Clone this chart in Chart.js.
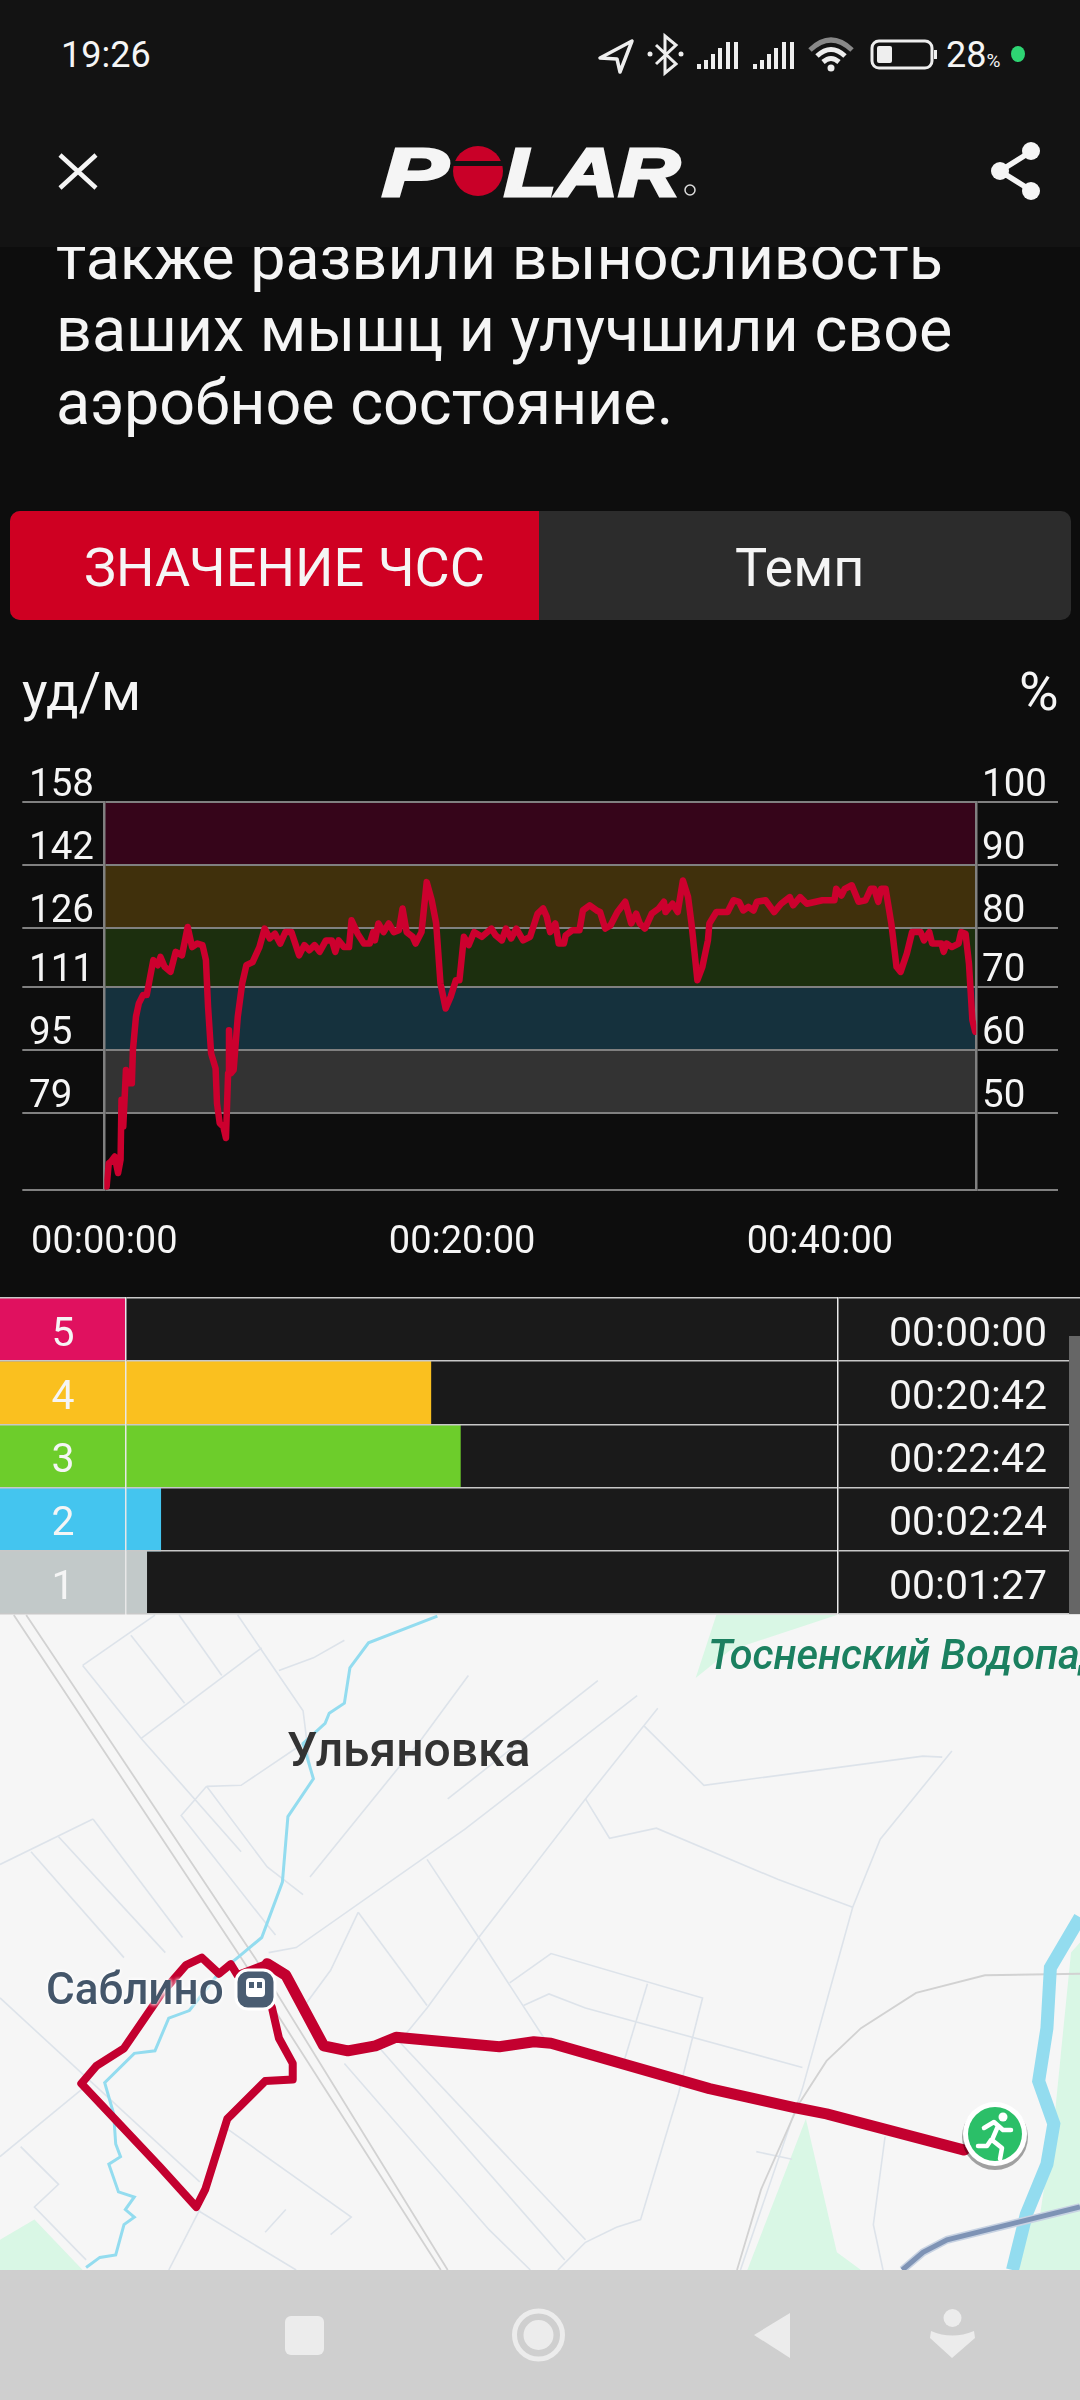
<!DOCTYPE html>
<html>
<head>
<meta charset="utf-8">
<title>Polar</title>
<script src="https://cdn.jsdelivr.net/npm/chart.js@4/dist/chart.umd.min.js"></script>
<style>
    html, body { margin: 0; padding: 0; background: #0d0d0d; }
    #page { position: relative; width: 1080px; height: 2400px; overflow: hidden; background: #0d0d0d; font-family: Roboto, sans-serif; color: #f5f5f5; }
    #page > * { position: absolute; }
    .t { white-space: nowrap; line-height: 1; }
    canvas { display: block; }
</style>
</head>
<body>
<div id="page">
    <div class="t" style="left:56px;top:221.5px;font-size:62.8px;line-height:72.5px;white-space:pre">также развили выносливость
ваших мышц и улучшили свое
аэробное состояние.</div>

    <div style="left:0;top:0;width:1080px;height:247px;background:#131313"></div>
    <div class="t" style="left:61px;top:37px;font-size:36px">19:26</div>
    <div class="t" style="left:946px;top:37px;font-size:36px">28<span style="font-size:19px">%</span></div>
    <svg style="left:0;top:0" width="1080" height="247">
        <path d="M632 41 L600 58 L617 59 L620 72 Z" fill="none" stroke="#eee" stroke-width="3.5" stroke-linejoin="round"/>
        <path d="M656 45 L676 64 L665 73 L665 36 L676 45 L656 64" fill="none" stroke="#eee" stroke-width="3"/>
        <circle cx="650" cy="54" r="2.5" fill="#eee"/><circle cx="681" cy="54" r="2.5" fill="#eee"/>
        <g fill="#eee">
            <rect x="697" y="64" width="4" height="5"/><rect x="704" y="60" width="4" height="9"/><rect x="711" y="54" width="4" height="15"/><rect x="718" y="48" width="4" height="21"/><rect x="726" y="42" width="4" height="27"/><rect x="734" y="42" width="4" height="27"/>
            <rect x="753" y="64" width="4" height="5"/><rect x="760" y="60" width="4" height="9"/><rect x="767" y="54" width="4" height="15"/><rect x="774" y="48" width="4" height="21"/><rect x="782" y="42" width="4" height="27"/><rect x="790" y="42" width="4" height="27"/>
        </g>
        <path d="M810 50 Q831 30 852 50" fill="none" stroke="#888" stroke-width="5"/>
        <path d="M817 56 Q831 43 845 56 M823 62 Q831 55 839 62" fill="none" stroke="#eee" stroke-width="5"/>
        <circle cx="831" cy="68" r="3.5" fill="#eee"/>
        <rect x="872" y="41" width="60" height="27" rx="7" fill="none" stroke="#eee" stroke-width="3"/>
        <rect x="877" y="46" width="15" height="17" rx="2" fill="#eee"/>
        <rect x="934" y="50" width="3" height="9" fill="#eee"/>
        <ellipse cx="1018" cy="54" rx="7" ry="8" fill="#2ed573"/>
        <path d="M60 155 L96 188 M96 155 L60 188" stroke="#f5f5f5" stroke-width="4.5"/>
        <g stroke="#f5f5f5" stroke-width="3">
            <text x="382" y="196" font-family="Liberation Sans" font-weight="bold" font-style="italic" font-size="68" fill="#f5f5f5" textLength="66" lengthAdjust="spacingAndGlyphs">P</text>
            <text x="504" y="196" font-family="Liberation Sans" font-weight="bold" font-style="italic" font-size="68" fill="#f5f5f5" textLength="176" lengthAdjust="spacingAndGlyphs">LAR</text>
        </g>
        <circle cx="478" cy="171" r="25" fill="#c90028"/>
        <rect x="452" y="161" width="52" height="5" fill="#131313"/>
        <circle cx="690" cy="190" r="5" fill="none" stroke="#ddd" stroke-width="1.5"/>
        <path d="M1032 151 L1000 171 L1032 191" fill="none" stroke="#f5f5f5" stroke-width="5.5"/>
        <circle cx="1031" cy="151" r="9" fill="#f5f5f5"/><circle cx="1000" cy="171" r="9" fill="#f5f5f5"/><circle cx="1031" cy="191" r="9" fill="#f5f5f5"/>
    </svg>

    <div style="left:10px;top:511px;width:1061px;height:109px;border-radius:10px;background:#2c2c2c;overflow:hidden">
        <div style="width:529px;height:109px;background:#cf0022"></div>
    </div>
    <div class="t" style="left:84px;top:541px;font-size:54px">ЗНАЧЕНИЕ ЧСС</div>
    <div class="t" style="left:735px;top:541px;font-size:54px">Темп</div>

    <div class="t" style="left:22px;top:665px;font-size:54px">уд/м</div>
    <div class="t" style="left:1019px;top:665px;font-size:54px">%</div>

    <div style="left:0;top:753px"><canvas id="hrChart" width="1080" height="521"></canvas></div>

    <svg style="left:0;top:1610px" width="1080" height="660" viewBox="0 0 1568 1310" preserveAspectRatio="none" id="mapBase">
        <rect x="0" y="0" width="1568" height="1310" fill="#f6f6f6"/>
        <g fill="#d9f7e5">
            <polygon points="1170,1010 1085,1310 1250,1310 1215,1275"/>
            <polygon points="0,1250 50,1210 120,1310 0,1310"/>
            <polygon points="1040,10 1215,10 1060,80 1010,135"/>
            <polygon points="1555,680 1568,660 1568,1180 1480,1210 1480,1310 1568,1310 1568,1180 1510,1200 1530,1020"/>
        </g>
        <g fill="none" stroke="#dde3ea" stroke-width="1.6">
            <polyline vector-effect="non-scaling-stroke" points="225,10 120,110"/>
            <polyline vector-effect="non-scaling-stroke" points="190,50 268,185"/>
            <polyline vector-effect="non-scaling-stroke" points="260,10 322,130"/>
            <polyline vector-effect="non-scaling-stroke" points="120,110 205,255 350,480"/>
            <polyline vector-effect="non-scaling-stroke" points="380,75 205,255"/>
            <polyline vector-effect="non-scaling-stroke" points="345,10 440,200 450,310"/>
            <polyline vector-effect="non-scaling-stroke" points="500,60 455,95 405,120"/>
            <polyline vector-effect="non-scaling-stroke" points="680,130 610,260 450,530"/>
            <polyline vector-effect="non-scaling-stroke" points="868,140 650,375"/>
            <polyline vector-effect="non-scaling-stroke" points="925,170 675,435 430,670 390,680"/>
            <polyline vector-effect="non-scaling-stroke" points="955,195 850,375 695,650 620,790 590,840"/>
            <polyline vector-effect="non-scaling-stroke" points="935,230 1022,348 1340,290 1368,292"/>
            <polyline vector-effect="non-scaling-stroke" points="1382,280 1278,455 1238,590 1165,950 1075,1310"/>
            <polyline vector-effect="non-scaling-stroke" points="850,375 885,453 953,433 1130,535 1238,590"/>
            <polyline vector-effect="non-scaling-stroke" points="620,495 695,650 790,850"/>
            <polyline vector-effect="non-scaling-stroke" points="520,600 620,785"/>
            <polyline vector-effect="non-scaling-stroke" points="520,600 480,715 445,780"/>
            <polyline vector-effect="non-scaling-stroke" points="135,415 0,505"/>
            <polyline vector-effect="non-scaling-stroke" points="135,415 265,650"/>
            <polyline vector-effect="non-scaling-stroke" points="45,480 180,690"/>
            <polyline vector-effect="non-scaling-stroke" points="85,450 240,680"/>
            <polyline vector-effect="non-scaling-stroke" points="0,770 290,1135"/>
            <polyline vector-effect="non-scaling-stroke" points="300,350 350,348 440,265"/>
            <polyline vector-effect="non-scaling-stroke" points="300,350 263,408 385,620 400,645"/>
            <polyline vector-effect="non-scaling-stroke" points="300,350 388,510 440,565"/>
            <polyline vector-effect="non-scaling-stroke" points="740,740 800,682 1020,770 985,960 930,1210 895,1225 850,1255 810,1310"/>
            <polyline vector-effect="non-scaling-stroke" points="760,785 797,762 850,790 1165,908"/>
            <polyline vector-effect="non-scaling-stroke" points="940,742 905,900"/>
            <polyline vector-effect="non-scaling-stroke" points="575,850 850,1250"/>
            <polyline vector-effect="non-scaling-stroke" points="545,860 820,1290"/>
            <polyline vector-effect="non-scaling-stroke" points="500,900 710,1230 770,1310"/>
            <polyline vector-effect="non-scaling-stroke" points="330,1030 510,1205 480,1240"/>
            <polyline vector-effect="non-scaling-stroke" points="290,1190 245,1310"/>
            <polyline vector-effect="non-scaling-stroke" points="285,1190 430,1310"/>
            <polyline vector-effect="non-scaling-stroke" points="385,1235 415,1190"/>
            <polyline vector-effect="non-scaling-stroke" points="120,950 0,1085"/>
            <polyline vector-effect="non-scaling-stroke" points="30,1065 85,1140 50,1185 125,1290"/>
            <polyline vector-effect="non-scaling-stroke" points="1098,1075 1150,1090"/>
            <polyline vector-effect="non-scaling-stroke" points="1285,1045 1268,1220 1282,1310"/>
        </g>
        <g fill="none" stroke="#d2d2d2" stroke-width="1.8">
            <polyline vector-effect="non-scaling-stroke" points="20,10 350,690 640,1310"/>
            <polyline vector-effect="non-scaling-stroke" points="38,10 370,690 650,1310"/>
            <polyline vector-effect="non-scaling-stroke" points="1568,722 1430,725 1330,760 1250,830 1200,895 1160,980 1105,1150 1070,1310"/>
        </g>
        <polyline vector-effect="non-scaling-stroke" fill="none" stroke="#93dcef" stroke-width="3" points="635,12 535,65 508,115 500,185 478,205 472,225 440,265 455,335 418,410 410,540 380,650 345,690 318,720 275,795 245,810 225,875 195,880 152,938 165,1000 168,1060 175,1085 158,1100 172,1155 195,1165 182,1190 195,1205 180,1220 168,1280 145,1285 125,1305"/>
        <polyline vector-effect="non-scaling-stroke" fill="none" stroke="#93dcef" stroke-width="13" points="1568,610 1525,710 1520,830 1508,935 1530,1020 1520,1100 1490,1200 1470,1310"/>
        <polyline vector-effect="non-scaling-stroke" fill="none" stroke="#c7d2e2" stroke-width="8" points="1568,1185 1375,1250 1340,1275 1310,1310"/>
        <polyline vector-effect="non-scaling-stroke" fill="none" stroke="#7e93b5" stroke-width="5" points="1568,1185 1375,1250 1340,1275 1310,1310"/>
    </svg>
    <div style="left:0;top:1610px"><canvas id="routeChart" width="1080" height="660"></canvas></div>
    <div class="t" style="left:708px;top:1634px;width:372px;overflow:hidden;font-size:41.5px;font-style:italic;font-weight:500;color:#1b8060">Тосненский Водопад</div>
    <div class="t" style="left:287px;top:1726px;font-size:48px;font-weight:500;color:#333">Ульяновка</div>
    <div class="t" style="left:46px;top:1967px;font-size:44px;color:#44566a;font-weight:500;text-shadow:0 0 4px #fff,0 0 4px #fff">Саблино</div>
    <svg style="left:0;top:1950px" width="1080" height="260">
        <rect x="236" y="20" width="39" height="39" rx="12" fill="#4a5d72" stroke="#fff" stroke-width="3"/>
        <rect x="246" y="28" width="19" height="19" rx="4" fill="#fff"/>
        <rect x="249" y="32" width="5" height="6" fill="#4a5d72"/><rect x="257" y="32" width="5" height="6" fill="#4a5d72"/>
        <circle cx="995" cy="187" r="33" fill="#000" opacity="0.35"/>
        <circle cx="995" cy="184" r="32" fill="#fff"/>
        <circle cx="995" cy="184" r="27" fill="#2bbf68"/>
        <circle cx="1003" cy="167" r="4.5" fill="#fff"/>
        <path d="M984 178 L994 172 L1003 180 L1011 180 M998 176 L992 190 L1002 198 L1000 209 M991 190 L987 196 L978 196" fill="none" stroke="#fff" stroke-width="4.5" stroke-linejoin="round" stroke-linecap="round"/>
    </svg>

    <div style="left:0;top:1290px"><canvas id="zoneChart" width="1080" height="335"></canvas></div>
    <div style="left:1069px;top:1336px;width:11px;height:278px;background:#666"></div>

    <div style="left:0;top:2270px;width:1080px;height:130px;background:#cfcfcf"></div>
    <svg style="left:0;top:2270px" width="1080" height="130">
        <rect x="285" y="46" width="39" height="39" rx="6" fill="#ececec"/>
        <circle cx="538.5" cy="65" r="24" fill="none" stroke="#ececec" stroke-width="5"/>
        <circle cx="538.5" cy="65" r="15" fill="#ececec"/>
        <polygon points="790,43 754,65 790,88" fill="#ececec"/>
        <circle cx="952.5" cy="48" r="9" fill="#ececec"/>
        <path d="M931 61 Q952 70 974 61 L975 68 L952 88 L930 68 Z" fill="#ececec"/>
    </svg>
</div>
<script>
/* heart rate samples */
const hrMinutes = [0.13, 0.25, 0.39, 0.58, 0.77, 0.91, 0.96, 1.06, 1.21, 1.29, 1.54, 1.60, 1.77, 1.93, 2.16, 2.37, 2.56, 2.74, 2.99, 3.14, 3.37, 3.70, 3.99, 4.34, 4.66, 4.91, 5.20, 5.49, 5.68, 5.80, 5.97, 6.22, 6.30, 6.45, 6.65, 6.80, 6.92, 6.97, 7.07, 7.23, 7.46, 7.71, 7.94, 8.29, 8.67, 8.96, 9.25, 9.54, 9.83, 10.12, 10.46, 10.89, 11.18, 11.46, 11.75, 12.04, 12.39, 12.72, 12.91, 13.10, 13.39, 13.68, 13.82, 14.16, 14.51, 14.84, 15.03, 15.13, 15.32, 15.61, 15.90, 16.18, 16.47, 16.67, 16.90, 17.24, 17.40, 17.73, 18.02, 18.30, 18.55, 18.79, 19.08, 19.36, 19.65, 19.85, 20.10, 20.37, 20.67, 21.10, 21.64, 21.87, 22.22, 22.45, 22.74, 23.03, 23.41, 23.80, 24.22,
    24.53, 24.73, 24.92, 25.21, 25.40, 25.69, 25.79, 26.17, 26.56, 26.75, 27.13, 27.52, 27.71, 28.00, 28.29, 28.68, 29.12, 29.45, 29.73, 29.93, 30.22, 30.60, 30.99, 31.28, 31.37, 31.76, 32.05, 32.34, 32.63, 32.82, 33.15, 33.43, 33.74, 33.82, 34.21, 34.84, 35.17, 35.48, 35.71, 36.00, 36.29, 36.48, 36.96, 37.44, 37.83, 38.31, 38.50, 38.89, 39.27, 40.14, 40.81, 40.91, 41.20, 41.39, 41.78, 42.16, 42.55, 42.84, 43.03, 43.26, 43.42, 43.67, 43.99, 44.28, 44.51, 44.86, 45.15, 45.63, 45.82, 46.11, 46.27, 46.79, 46.92, 47.08, 47.37, 47.75, 47.89, 48.14, 48.33, 48.52, 48.68];
const hrBpm = [60.4, 66.3, 66.8, 68.0, 63.8, 67.2, 82.4, 75.6, 90.0, 86.6, 86.6, 95.1, 103.5, 106.9, 109.0, 109.0, 113.6, 117.9, 116.6, 118.7, 116.2, 114.9, 120.0, 119.1, 126.3, 121.2, 122.1, 121.7, 117.9, 106.0, 94.2, 90.4, 81.5, 76.5, 75.6, 72.7, 89.1, 100.1, 89.1, 90.0, 103.5, 112.0, 116.6, 117.4, 121.2, 125.9, 123.4, 124.6, 122.1, 125.0, 125.0, 119.1, 121.7, 120.4, 121.7, 120.0, 122.9, 122.9, 120.0, 122.9, 121.2, 121.2, 128.0, 124.6, 122.1, 122.1, 125.0, 122.9, 127.2, 125.0, 127.2, 125.0, 125.5, 131.0, 125.0, 123.8, 122.1, 125.0, 137.7, 133.1, 127.2, 112.0, 105.6, 108.6, 112.8, 112.8, 123.8, 121.7, 125.0, 123.8, 125.9, 124.2, 122.9, 125.9, 123.4, 125.9, 122.9, 123.8, 129.7,
    131.0, 128.9, 125.0, 127.2, 122.1, 122.1, 124.2, 125.5, 125.5, 130.5, 131.8, 130.5, 130.1, 125.9, 126.7, 130.1, 132.7, 127.2, 129.7, 127.2, 125.9, 129.7, 131.0, 132.7, 130.1, 132.2, 130.1, 138.1, 133.9, 127.2, 112.8, 116.2, 122.9, 127.2, 130.1, 130.1, 133.1, 132.7, 130.5, 131.4, 130.5, 132.7, 133.1, 130.1, 132.2, 133.9, 131.8, 133.9, 132.2, 133.1, 133.1, 136.0, 134.3, 136.0, 136.9, 132.7, 133.1, 136.0, 136.0, 132.7, 136.0, 136.0, 127.2, 116.2, 114.9, 119.6, 125.0, 125.0, 122.9, 125.0, 122.1, 122.1, 120.0, 122.1, 121.2, 122.1, 125.0, 124.6, 117.0, 102.7, 99.7];

const hrTicks = [158, 142, 126, 111, 95, 79, 59.5];
const hrTickLabels = ['158', '142', '126', '111', '95', '79', ''];
const pctTickLabels = ['100', '90', '80', '70', '60', '50', ''];
const timeTicks = [0, 20, 40];
const timeTickLabels = ['00:00:00', '00:20:00', '00:40:00'];
const workoutMinutes = 48.74;
const bandColors = ['#36051a', '#40300c', '#1c2f0e', '#15313d', '#333333'];

/* time in zone */
const zoneIds = ['5', '4', '3', '2', '1'];
const zoneTimes = ['00:00:00', '00:20:42', '00:22:42', '00:02:24', '00:01:27'];
const zoneMinutes = [0, 20.7, 22.7, 2.4, 1.45];
const zoneColors = ['#e0115f', '#fac01f', '#6dcd2b', '#44c5ef', '#c2c9c9'];
const zoneAxisMax = 48.25;

/* route on the map, in map units */
const routeX = [1400, 1200, 1155, 1030, 800, 775, 725, 575, 545, 505, 470, 415, 388, 350, 345, 335, 318, 293, 270, 235, 180, 140, 118, 232, 285, 298, 330, 385, 425, 425, 405, 395, 380];
const routeY = [1072, 1000, 988, 950, 860, 857, 867, 848, 865, 875, 865, 725, 702, 722, 725, 703, 722, 690, 705, 760, 870, 905, 940, 1105, 1185, 1150, 1010, 935, 932, 900, 850, 790, 745];
const routeEastLegEnd = 12;

const gridGrey = '#808080';
const tickFont = { family: 'Roboto', size: 38.5 };

// canvas baselines sit a little high for this font, push the axis text down
function nudgeLabels(scale, dy) {
    scale.getLabelItems().forEach(item => { item.textOffset = dy; });
}

const zoneBands = {
    id: 'zoneBands',
    beforeDraw(chart) {
        const { ctx, chartArea, scales } = chart;
        bandColors.forEach((color, i) => {
            const top = scales.y.getPixelForValue(hrTicks[i]);
            const bottom = scales.y.getPixelForValue(hrTicks[i + 1]);
            ctx.fillStyle = color;
            ctx.fillRect(chartArea.left, top, chartArea.width, bottom - top);
        });
        nudgeLabels(scales.y, 3);
        nudgeLabels(scales.y2, 3);
    }
};

new Chart(document.getElementById('hrChart'), {
    type: 'line',
    plugins: [zoneBands],
    data: {
        datasets: [{
            data: hrMinutes.map((m, i) => ({ x: m, y: hrBpm[i] })),
            borderColor: '#cc002e',
            borderWidth: 6.5,
            borderJoinStyle: 'round',
            borderCapStyle: 'round',
            pointRadius: 0,
            tension: 0
        }]
    },
    options: {
        responsive: false,
        animation: false,
        events: [],
        layout: { padding: { left: 29, right: 22, top: 0, bottom: 4 } },
        plugins: { legend: { display: false }, tooltip: { enabled: false } },
        scales: {
            x: {
                type: 'linear',
                min: 0,
                max: workoutMinutes,
                afterBuildTicks: s => { s.ticks = timeTicks.map(v => ({ value: v })); },
                afterFit: s => { s.height = 80; },
                grid: { display: false },
                border: { display: false },
                ticks: {
                    autoSkip: false,
                    maxRotation: 0,
                    padding: 22.5,
                    color: '#f5f5f5',
                    font: { family: 'Roboto', size: 38 },
                    callback: (v, i) => timeTickLabels[i]
                }
            },
            y: {
                position: 'left',
                min: 59.5,
                max: 158,
                afterBuildTicks: s => { s.ticks = hrTicks.map(v => ({ value: v })); },
                afterFit: s => { s.width = 75.3; },
                grid: { color: gridGrey, tickColor: gridGrey, lineWidth: 2, tickLength: 82 },
                border: { color: gridGrey, width: 2.5 },
                ticks: {
                    autoSkip: false,
                    align: 'end',
                    crossAlign: 'far',
                    color: '#f5f5f5',
                    font: tickFont,
                    callback: (v, i) => hrTickLabels[i]
                }
            },
            y2: {
                position: 'right',
                min: 59.5,
                max: 158,
                afterBuildTicks: s => { s.ticks = hrTicks.map(v => ({ value: v })); },
                afterFit: s => { s.width = 81.7; },
                grid: { drawOnChartArea: false, tickColor: gridGrey, lineWidth: 2, tickLength: 81.7 },
                border: { color: gridGrey, width: 2.5 },
                ticks: {
                    autoSkip: false,
                    align: 'end',
                    padding: -76,
                    color: '#f5f5f5',
                    font: tickFont,
                    callback: (v, i) => pctTickLabels[i]
                }
            }
        }
    }
});

const zoneCells = {
    id: 'zoneCells',
    beforeDraw(chart) {
        const { ctx, chartArea, scales, width } = chart;
        const rowH = chartArea.height / zoneIds.length;
        ctx.fillStyle = '#1a1a1a';
        ctx.fillRect(0, chartArea.top, width, chartArea.height);
        zoneColors.forEach((color, i) => {
            ctx.fillStyle = color;
            ctx.fillRect(0, scales.y.getPixelForTick(i) - rowH / 2, chartArea.left, rowH);
        });
        nudgeLabels(scales.y, 6);
        nudgeLabels(scales.y2, 6);
    }
};

new Chart(document.getElementById('zoneChart'), {
    type: 'bar',
    plugins: [zoneCells],
    data: {
        labels: zoneIds,
        datasets: [{
            data: zoneMinutes,
            backgroundColor: zoneColors,
            barPercentage: 1,
            categoryPercentage: 1
        }]
    },
    options: {
        indexAxis: 'y',
        responsive: false,
        animation: false,
        events: [],
        layout: { padding: { top: 8, bottom: 11 } },
        plugins: { legend: { display: false }, tooltip: { enabled: false } },
        scales: {
            x: { display: false, min: 0, max: zoneAxisMax },
            y: {
                position: 'left',
                afterFit: s => { s.width = 125.3; },
                grid: { color: '#c8c8c8', tickColor: '#c8c8c8', lineWidth: 1.5, tickLength: 125.3, offset: true, z: 1 },
                border: { color: '#e8e8e8', width: 1.5, z: 1 },
                ticks: { padding: -74.5, crossAlign: 'near', color: '#f5f5f5', font: { family: 'Roboto', size: 41 } }
            },
            y2: {
                type: 'category',
                position: 'right',
                labels: zoneTimes,
                offset: true,
                afterFit: s => { s.width = 242.5; },
                grid: { drawOnChartArea: false, color: '#c8c8c8', tickColor: '#c8c8c8', lineWidth: 1.5, tickLength: 242.5, offset: true, z: 1 },
                border: { color: '#e8e8e8', width: 1.5, z: 1 },
                ticks: { padding: -191, crossAlign: 'near', color: '#f5f5f5', font: { family: 'Roboto', size: 41 } }
            }
        }
    }
});

new Chart(document.getElementById('routeChart'), {
    type: 'line',
    data: {
        datasets: [{
            data: routeX.map((x, i) => ({ x: x, y: routeY[i] })),
            borderColor: '#c3002f',
            borderWidth: 8,
            segment: { borderWidth: c => (c.p0DataIndex < routeEastLegEnd ? 11 : 8) },
            borderJoinStyle: 'round',
            borderCapStyle: 'round',
            pointRadius: 0,
            tension: 0
        }]
    },
    options: {
        responsive: false,
        animation: false,
        events: [],
        layout: { padding: 0 },
        plugins: { legend: { display: false }, tooltip: { enabled: false } },
        scales: {
            x: { type: 'linear', display: false, min: 0, max: 1568 },
            y: { type: 'linear', display: false, min: 0, max: 1310, reverse: true }
        }
    }
});
</script>
</body>
</html>
